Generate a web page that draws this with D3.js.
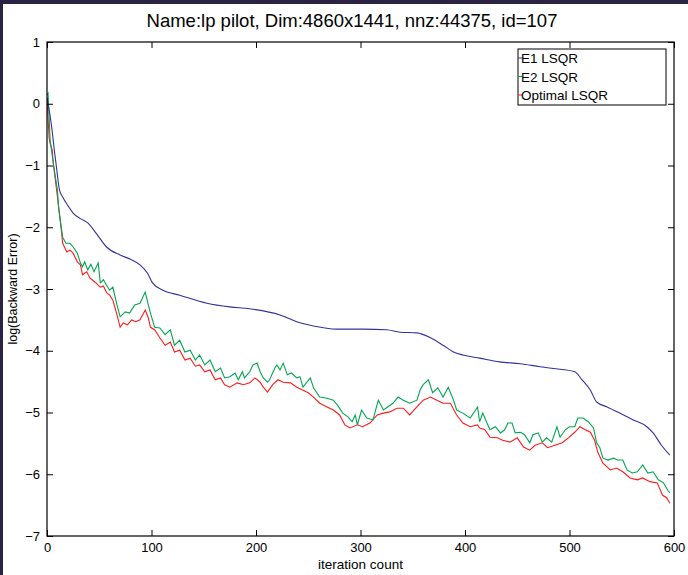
<!DOCTYPE html>
<html><head><meta charset="utf-8">
<script src="https://cdn.jsdelivr.net/npm/d3@7/dist/d3.min.js"></script>
<style>body{margin:0;background:#fff}svg{display:block}text{font-family:"Liberation Sans",Arial,sans-serif}</style>
</head><body>
<svg id="c" width="688" height="575"></svg>
<script>
const title = "Name:lp pilot, Dim:4860x1441, nnz:44375, id=107";
const xTicks = [0,100,200,300,400,500,600];
const yTicks = [1,0,-1,-2,-3,-4,-5,-6,-7];
const seriesNames = ["E1 LSQR","E2 LSQR","Optimal LSQR"];

const e1Iter = [0,2,3,5,7,9,12,15,20,25,32,39,48,57,70,80,89,96,101,111,127,153,175,194,223,239,255,277,302,325,338,354,367,379,389,398,414,433,453,472,491,505,512,520,526,536,548,561,574,580,588,596];
const e1Val  = [0.1,-0.1,-0.2,-0.45,-0.75,-1.02,-1.40,-1.51,-1.65,-1.77,-1.86,-1.93,-2.12,-2.32,-2.45,-2.52,-2.61,-2.74,-2.90,-3.02,-3.10,-3.23,-3.29,-3.32,-3.42,-3.53,-3.60,-3.65,-3.65,-3.66,-3.70,-3.71,-3.79,-3.91,-4.02,-4.07,-4.12,-4.18,-4.21,-4.26,-4.30,-4.34,-4.47,-4.64,-4.83,-4.91,-5.01,-5.12,-5.23,-5.33,-5.53,-5.69];

const e2Iter = [0,1,3,6,10,11,13,15,18,22,25,29,32,34,36,39,42,45,49,51,54,57,60,63,67,70,75,79,84,89,94,97,99,103,108,113,118,122,127,132,137,142,146,151,156,161,166,170,175,180,183,187,189,194,197,201,204,207,211,213,218,220,223,226,230,234,239,242,245,252,255,261,268,274,278,283,288,292,295,297,301,306,312,317,322,326,331,336,341,347,354,357,360,365,369,374,379,384,389,392,398,405,412,414,417,421,424,429,434,438,441,445,448,453,457,462,465,470,474,478,483,488,491,496,500,505,508,513,518,523,526,529,532,537,542,546,551,555,560,565,570,575,580,585,590,594,596];
const e2Val  = [0.14,0.17,-0.59,-0.96,-1.40,-1.67,-1.93,-2.16,-2.26,-2.26,-2.32,-2.42,-2.58,-2.64,-2.56,-2.69,-2.60,-2.72,-2.58,-2.90,-2.85,-2.94,-3.02,-2.97,-3.26,-3.45,-3.37,-3.39,-3.26,-3.23,-3.05,-3.26,-3.39,-3.62,-3.63,-3.74,-3.66,-3.91,-3.83,-4.02,-3.99,-4.15,-4.07,-4.23,-4.15,-4.34,-4.28,-4.44,-4.42,-4.36,-4.47,-4.34,-4.44,-4.34,-4.23,-4.20,-4.34,-4.44,-4.51,-4.47,-4.28,-4.23,-4.31,-4.20,-4.39,-4.36,-4.44,-4.42,-4.59,-4.44,-4.60,-4.75,-4.77,-4.80,-4.88,-5.01,-5.07,-5.15,-5.04,-5.20,-4.96,-5.09,-5.12,-4.80,-4.96,-4.91,-4.85,-4.75,-4.80,-4.85,-4.80,-4.64,-4.55,-4.47,-4.68,-4.60,-4.75,-4.59,-4.80,-4.96,-5.01,-5.09,-4.91,-5.15,-5.01,-5.17,-5.28,-5.23,-5.33,-5.28,-5.17,-5.17,-5.33,-5.32,-5.36,-5.49,-5.36,-5.33,-5.48,-5.41,-5.48,-5.23,-5.40,-5.28,-5.23,-5.23,-5.09,-5.09,-5.15,-5.25,-5.49,-5.57,-5.74,-5.77,-5.74,-5.77,-5.77,-5.93,-5.98,-5.96,-5.85,-5.98,-5.96,-6.09,-6.14,-6.26,-6.30];

const optIter = [0,2,3,5,6,10,13,15,19,22,25,29,32,34,38,41,46,51,54,57,60,63,67,70,73,77,81,85,89,94,97,99,103,108,113,118,122,127,132,137,142,146,151,156,161,166,170,175,182,188,194,199,204,207,211,216,221,226,233,239,245,250,255,261,268,274,280,285,290,297,302,309,316,322,328,335,341,347,354,360,367,373,379,386,392,398,405,412,414,419,424,431,436,443,450,456,462,467,474,479,486,493,499,505,510,515,520,524,527,532,539,545,551,558,565,570,577,584,589,593,596];
const optVal  = [0.1,-0.55,-0.64,-0.75,-0.96,-1.51,-1.93,-2.26,-2.40,-2.37,-2.42,-2.56,-2.61,-2.77,-2.72,-2.82,-2.89,-2.97,-2.95,-3.06,-3.10,-3.18,-3.42,-3.62,-3.55,-3.58,-3.50,-3.53,-3.50,-3.34,-3.47,-3.62,-3.66,-3.79,-3.91,-3.86,-4.02,-3.99,-4.15,-4.12,-4.25,-4.23,-4.34,-4.31,-4.47,-4.44,-4.55,-4.59,-4.52,-4.55,-4.52,-4.44,-4.51,-4.59,-4.67,-4.55,-4.47,-4.51,-4.52,-4.59,-4.64,-4.68,-4.75,-4.85,-4.91,-4.96,-5.04,-5.20,-5.25,-5.20,-5.23,-5.17,-5.04,-5.01,-4.99,-4.93,-4.93,-5.04,-4.91,-4.80,-4.75,-4.80,-4.85,-4.85,-5.04,-5.17,-5.23,-5.20,-5.25,-5.28,-5.40,-5.41,-5.45,-5.48,-5.41,-5.56,-5.61,-5.53,-5.49,-5.57,-5.53,-5.49,-5.41,-5.32,-5.23,-5.28,-5.32,-5.45,-5.64,-5.82,-5.93,-5.90,-5.96,-6.06,-6.09,-6.06,-6.12,-6.14,-6.34,-6.38,-6.47];

const colors = ["#32329e","#00a651","#ff1a1a"];

const svg = d3.select("#c");
const W = 688, H = 575;
const m = {l:47, r:674, t:42, b:536};

svg.append("rect").attr("width",W).attr("height",H).attr("fill","#fff");
svg.append("rect").attr("x",0).attr("y",0).attr("width",W).attr("height",4).attr("fill","#2a2342");
svg.append("rect").attr("x",0).attr("y",0).attr("width",3).attr("height",H).attr("fill","#2a2342");

const x = d3.scaleLinear().domain([0,600]).range([m.l,m.r]);
const y = d3.scaleLinear().domain([-7,1]).range([m.b,m.t]);

const lineSharp = d3.line().x(d=>x(d[0])).y(d=>y(d[1]));
const lineSmooth = d3.line().x(d=>x(d[0])).y(d=>y(d[1])).curve(d3.curveMonotoneX);
const sets = [[e1Iter,e1Val],[e2Iter,e2Val],[optIter,optVal]];
const g = svg.append("g");
g.append("clipPath").attr("id","cp").append("rect").attr("x",m.l).attr("y",m.t).attr("width",m.r-m.l).attr("height",m.b-m.t);
[2,1,0].forEach(i=>{
  const [it,v] = sets[i];
  g.append("path").datum(it.map((d,k)=>[d,v[k]])).attr("d", i===0 ? lineSmooth : lineSharp)
   .attr("fill","none").attr("stroke",colors[i]).attr("stroke-width",1.1).attr("clip-path","url(#cp)");
});

const fmt = d => d<0 ? "\u2212"+Math.abs(d) : String(d);
svg.append("g").attr("transform",`translate(0,${m.b})`)
  .call(d3.axisBottom(x).tickValues(xTicks).tickSize(-6).tickPadding(7).tickFormat(fmt))
  .call(s=>{s.select(".domain").remove();s.selectAll("text").attr("font-size",13).attr("fill","#000").attr("font-family","Liberation Sans, Arial");s.selectAll("line").attr("stroke","#000");});
svg.append("g").attr("transform",`translate(0,${m.t})`)
  .call(d3.axisTop(x).tickValues(xTicks).tickSize(-6).tickFormat(""))
  .call(s=>{s.select(".domain").remove();s.selectAll("line").attr("stroke","#000");});
svg.append("g").attr("transform",`translate(${m.l},0)`)
  .call(d3.axisLeft(y).tickValues(yTicks).tickSize(-6).tickPadding(7).tickFormat(fmt))
  .call(s=>{s.select(".domain").remove();s.selectAll("text").attr("font-size",13).attr("fill","#000").attr("font-family","Liberation Sans, Arial");s.selectAll("line").attr("stroke","#000");});
svg.append("g").attr("transform",`translate(${m.r},0)`)
  .call(d3.axisRight(y).tickValues(yTicks).tickSize(-6).tickFormat(""))
  .call(s=>{s.select(".domain").remove();s.selectAll("line").attr("stroke","#000");});

svg.append("rect").attr("x",m.l).attr("y",m.t).attr("width",m.r-m.l).attr("height",m.b-m.t)
  .attr("fill","none").attr("stroke","#000").attr("stroke-width",1.2);

svg.append("text").attr("x",352).attr("y",27).attr("text-anchor","middle")
  .attr("font-size",18.5).text(title);
svg.append("text").attr("x",(m.l+m.r)/2).attr("y",569).attr("text-anchor","middle")
  .attr("font-size",13.5).text("iteration count");
svg.append("text").attr("transform",`translate(17,${(m.t+m.b)/2}) rotate(-90)`).attr("text-anchor","middle")
  .attr("font-size",12.5).text("log(Backward Error)");

const lg = svg.append("g");
lg.append("rect").attr("x",518).attr("y",49).attr("width",148).attr("height",56)
  .attr("fill","#fff").attr("stroke","#000").attr("stroke-width",1);
seriesNames.forEach((n,i)=>{
  const yy = 58 + i*18.5;
  lg.append("line").attr("x1",518).attr("x2",522).attr("y1",yy).attr("y2",yy).attr("stroke",colors[i]);
  lg.append("text").attr("x",521).attr("y",yy+5).attr("font-size",13.5).text(n);
});
</script>
</body></html>
